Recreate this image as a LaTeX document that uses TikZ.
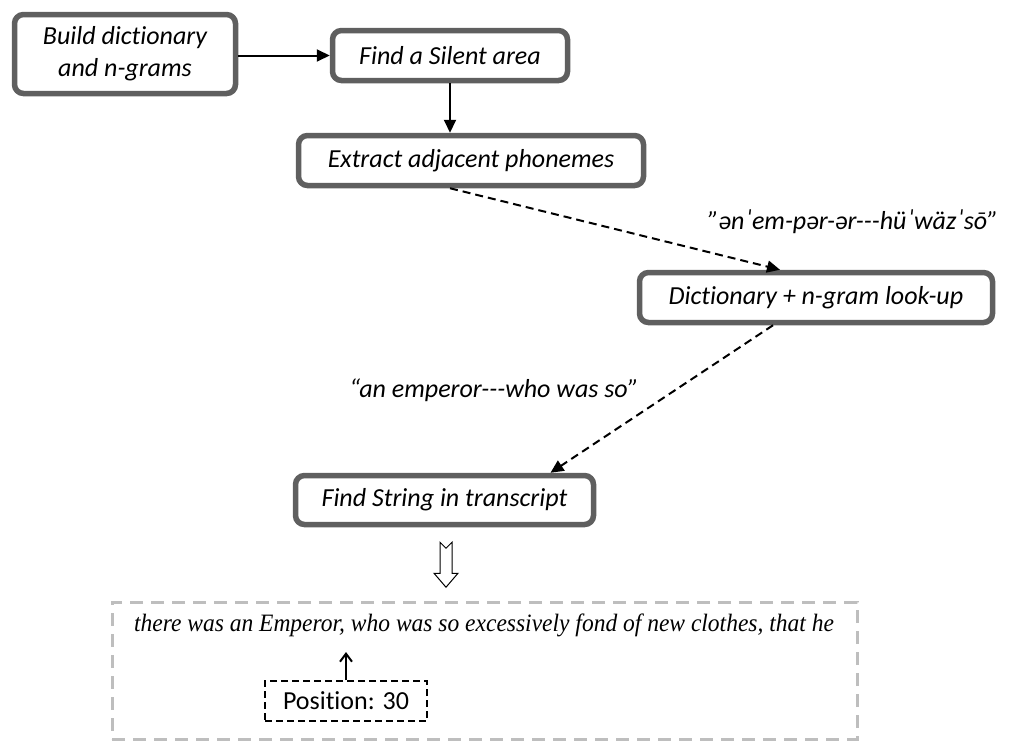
\documentclass[tikz,border=0pt]{standalone}
\usepackage{fontspec}
\setmainfont{Carlito}[Ligatures={TeXOff,NoCommon}]
\newfontfamily\storyfont{Liberation Serif}[Ligatures=TeXOff]
\usetikzlibrary{arrows.meta,calc}
\definecolor{boxgray}{RGB}{95,95,95}
\definecolor{lightgray}{RGB}{190,190,190}
\begin{document}
\begin{tikzpicture}[x=1pt,y=-1pt,
  stepbox/.style={draw=boxgray,line width=5.5pt,rounded corners=9pt,fill=white,
    inner sep=0pt,align=center,font=\fontsize{26}{32}\selectfont\itshape},
  flow/.style={line width=2pt,-{Triangle[length=13pt,width=12pt]}},
  dflow/.style={line width=2pt,dash pattern=on 8pt off 5pt,-{Triangle[length=13pt,width=12pt]}},
  quote/.style={font=\fontsize{26}{32}\selectfont\itshape,inner sep=0pt}]
\useasboundingbox (0,0) rectangle (1010,742);

% process steps
\node[stepbox,minimum width=221pt,minimum height=79pt] (build) at (125,54)
  {Build dictionary\\and n-grams};
\node[stepbox,minimum width=235pt,minimum height=50pt] (silent) at (450,55.5)
  {Find a Silent area};
\node[stepbox,minimum width=345pt,minimum height=50pt] (extract) at (471,160.5)
  {Extract adjacent phonemes};
\node[stepbox,minimum width=353pt,minimum height=50pt] (lookup) at (816,297.5)
  {Dictionary + n-gram look-up};
\node[stepbox,minimum width=298pt,minimum height=49pt] (find) at (444.5,500)
  {Find String in transcript};

% intermediate results
\node[quote] (phon) at (853,222) {”ənˈem-pər-ər---hüˈwäzˈsō”};
\node[quote] (words) at (494,390) {“an emperor---who was so”};

% connectors
\draw[flow] (build.east |- silent.west) -- (silent.west);
\draw[flow] (silent.south) -- (silent.south |- extract.north);
\draw[dflow] (silent.south |- extract.south) -- ([xshift=-36pt]lookup.north);
\draw[dflow] ([xshift=-43pt]lookup.south) -- ([xshift=106pt]find.north);

% transcript excerpt
\node[draw=lightgray,line width=3pt,dash pattern=on 13pt off 8pt,
  minimum width=745pt,minimum height=137pt,inner sep=0pt] (transcript) at (484.5,670.5) {};
\node[font=\storyfont\itshape\fontsize{25}{28}\selectfont,inner sep=0pt] (story) at (484,625)
  {\scalebox{0.94}[1]{there was an Emperor, who was so excessively fond of new clothes, that he}};
\node[draw,line width=2pt,dash pattern=on 7pt off 4pt,minimum width=162pt,minimum height=40pt,
  inner sep=0pt,font=\fontsize{26}{32}\selectfont] (pos) at (346,701) {Position: 30};
\coordinate (mark) at (346,652);
\draw[line width=2pt,-{Straight Barb[length=8pt,width=12pt]}] (pos.north) -- (mark);

% hollow block arrow from the search step to the transcript
\coordinate (ha) at ($(find.south)+(1.5,15)$);
\draw[line width=1pt,fill=white]
  ($(ha)+(-6,0)$) -- ($(ha)+(0,6)$) -- ($(ha)+(6,0)$) -- ($(ha)+(6,31)$) -- ($(ha)+(12,31)$)
  -- ($(ha)+(0,45)$) -- ($(ha)+(-12,31)$) -- ($(ha)+(-6,31)$) -- cycle;
\end{tikzpicture}
\end{document}
